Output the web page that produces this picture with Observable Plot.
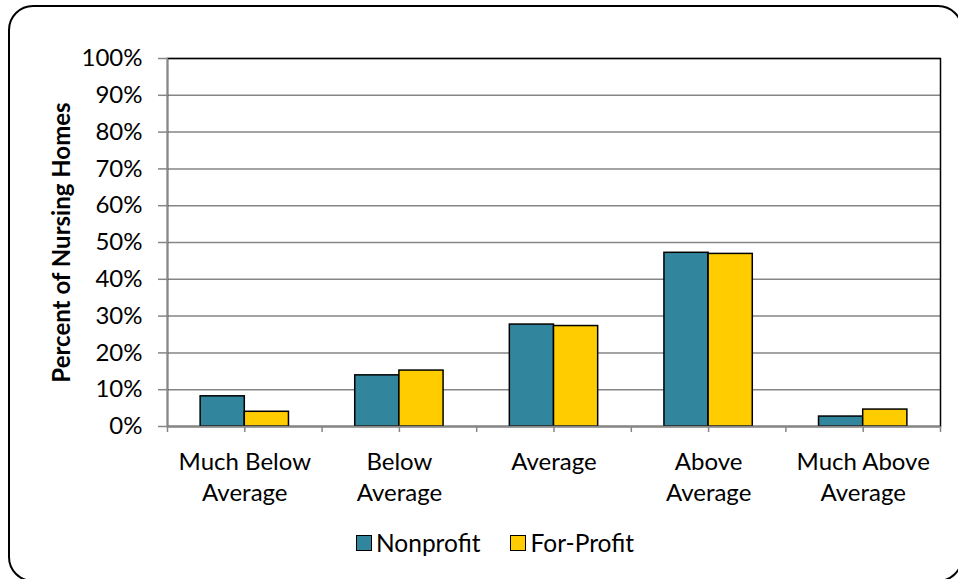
<!DOCTYPE html>
<html>
<head>
<meta charset="utf-8">
<script src="https://cdn.jsdelivr.net/npm/d3@7"></script>
<script src="https://cdn.jsdelivr.net/npm/@observablehq/plot@0.6"></script>
<style>
  html, body { margin: 0; padding: 0; background: #fff; overflow: hidden; }
  #wrap { position: relative; width: 958px; height: 579px; overflow: hidden; font-family: Lato, "Open Sans", sans-serif; }
  #border { position: absolute; left: 8px; top: 5px; width: 955px; height: 577px; box-sizing: border-box;
            border: 2px solid #000; border-radius: 25px; pointer-events: none; }
  #chart { position: absolute; left: 0; top: 0; }
  #legend { position: absolute; left: 356px; top: 528px; display: flex; align-items: center;
            font-size: 24.5px; color: #000; white-space: nowrap; }
  .item { display: flex; align-items: center; }
  .swatch { width: 16px; height: 16px; box-sizing: border-box; border: 1.5px solid #000; margin-right: 4px; }
</style>
</head>
<body>
<div id="wrap">
  <div id="chart"></div>
  <div id="legend"></div>
  <div id="border"></div>
</div>
<script>
// Quality rating categories and the share of nursing homes in each (percent)
const categories = ["Much Below Average", "Below Average", "Average", "Above Average", "Much Above Average"];
const tickLabels = ["Much Below\nAverage", "Below\nAverage", "Average", "Above\nAverage", "Much Above\nAverage"];
const seriesNames = ["Nonprofit", "For-Profit"];
const nonprofit = [8.2, 13.9, 27.7, 47.2, 2.7];
const forProfit = [4.0, 15.2, 27.3, 46.9, 4.6];
const yTicks = [0, 10, 20, 30, 40, 50, 60, 70, 80, 90, 100];
const yLabel = "Percent of Nursing Homes";

const colors = {"Nonprofit": "#31859C", "For-Profit": "#FFCC00"};
const gridColor = "#868686";

const rows = categories.flatMap((c, i) => [
  {category: c, series: seriesNames[0], value: nonprofit[i]},
  {category: c, series: seriesNames[1], value: forProfit[i]}
]);

const W = 958, H = 520;
const mL = 167, mR = 18, mT = 58, mB = 94;
const plotH = H - mT - mB;
const bw = (W - mL - mR) / categories.length;   // width of one category band
const barW = bw / 3.5;                           // Excel-style 150% gap width
const edge = (bw - 2 * barW) / 2;

const labelOf = new Map(categories.map((c, i) => [c, tickLabels[i]]));

const chart = Plot.plot({
  width: W,
  height: H,
  marginLeft: mL,
  marginRight: mR,
  marginTop: mT,
  marginBottom: mB,
  style: {fontFamily: "Lato, 'Open Sans', sans-serif", fontSize: "24px", color: "#000", background: "transparent"},
  x: {type: "band", domain: categories, paddingInner: 0, paddingOuter: 0, round: false, axis: null},
  y: {domain: [0, 100], axis: null},
  marks: [
    // horizontal gridlines
    Plot.ruleY(yTicks, {stroke: gridColor, strokeWidth: 1.5}),
    // plot area border
    Plot.frame({stroke: "#000", strokeWidth: 1.5}),
    // bars
    Plot.barY(rows.filter(d => d.series === seriesNames[0]), {
      x: "category", y: "value", fill: colors["Nonprofit"], stroke: "#000", strokeWidth: 1.5,
      insetLeft: edge, insetRight: bw / 2
    }),
    Plot.barY(rows.filter(d => d.series === seriesNames[1]), {
      x: "category", y: "value", fill: colors["For-Profit"], stroke: "#000", strokeWidth: 1.5,
      insetLeft: bw / 2, insetRight: edge
    }),
    // axis lines
    Plot.ruleY([0], {stroke: gridColor, strokeWidth: 1.5}),
    Plot.ruleX([categories[0]], {x: d => d, dx: -bw / 2, stroke: gridColor, strokeWidth: 1.5}),
    // tick marks at category boundaries
    Plot.ruleX(categories, {x: d => d, dx: -bw / 2, insetTop: plotH, insetBottom: -6, stroke: gridColor, strokeWidth: 1.5}),
    Plot.ruleX([categories[categories.length - 1]], {x: d => d, dx: bw / 2, insetTop: plotH, insetBottom: -6, stroke: gridColor, strokeWidth: 1.5}),
    // tick marks at category centres
    Plot.axisX({tickSize: 6, stroke: gridColor, strokeWidth: 1.5, tickFormat: () => "", label: null}),
    // category labels
    Plot.axisX({tickSize: 0, tickPadding: 22, lineAnchor: "top", lineHeight: 1.29, fontSize: 24,
                tickFormat: d => labelOf.get(d), label: null}),
    // y ticks and labels
    Plot.axisY({ticks: yTicks, tickSize: 9, stroke: gridColor, strokeWidth: 1.5, tickFormat: () => "", label: null}),
    Plot.axisY({ticks: yTicks, tickSize: 0, tickPadding: 25, fontSize: 24, tickFormat: d => d + "%", label: null}),
    // y axis title
    Plot.text([yLabel], {text: d => d, frameAnchor: "left", dx: -105, rotate: -90,
                         textAnchor: "middle", lineAnchor: "middle", fontWeight: "bold", fontSize: 24})
  ]
});
document.getElementById("chart").appendChild(chart);

// legend
const legend = document.getElementById("legend");
seriesNames.forEach((s, i) => {
  const item = document.createElement("div");
  item.className = "item";
  if (i > 0) item.style.marginLeft = "30px";
  const sw = document.createElement("div");
  sw.className = "swatch";
  sw.style.background = colors[s];
  const label = document.createElement("span");
  label.textContent = s;
  item.appendChild(sw);
  item.appendChild(label);
  legend.appendChild(item);
});
</script>
</body>
</html>
